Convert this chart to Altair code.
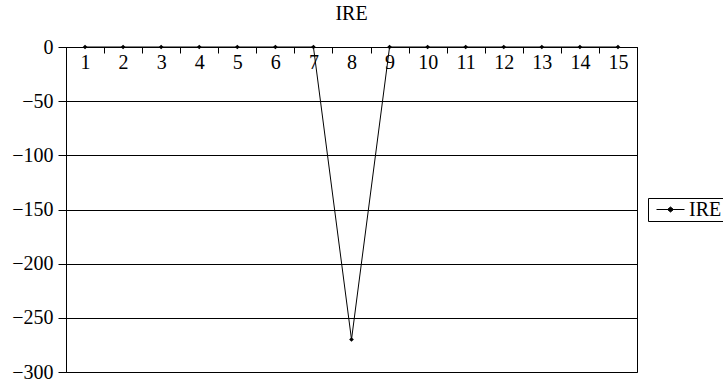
import altair as alt
import pandas as pd

# Series values for the single "IRE" line, one per category 1..15
categories = [str(i) for i in range(1, 16)]
ire_values = [0, 0, 0, 0, 0, 0, 0, -270, 0, 0, 0, 0, 0, 0, 0]
series_name = "IRE"
y_ticks = [0, -50, -100, -150, -200, -250, -300]

df = pd.DataFrame({"cat": categories, "value": ire_values, "series": series_name})

FONT = "Liberation Serif"
PLOT_W, PLOT_H = 571, 325

x_enc = alt.X(
    "cat:O",
    sort=categories,
    scale=alt.Scale(type="band", paddingInner=0, paddingOuter=0),
    axis=alt.Axis(
        title=None,
        orient="bottom",
        offset=-PLOT_H,
        ticks=True,
        tickBand="extent",
        labelFlush=False,
        labelAngle=0,
        labelPadding=-1,
        tickSize=6,
        labelOverlap=False,
    ),
)

y_enc = alt.Y(
    "value:Q",
    scale=alt.Scale(domain=[-300, 0], nice=False),
    axis=alt.Axis(
        title=None,
        values=y_ticks,
        labelPadding=5,
        tickSize=8,
        grid=True,
    ),
)

color_enc = alt.Color(
    "series:N",
    scale=alt.Scale(range=["black"]),
    legend=alt.Legend(
        title=None,
        orient="none",
        legendX=582,
        legendY=151,
        strokeColor="black",
        padding=1,
        symbolOffset=11,
        labelOffset=8,
        symbolType="M-1.4,0L1.4,0M0,-0.25L0.3,0L0,0.25L-0.3,0Z",
        symbolSize=400,
        symbolStrokeWidth=1,
        symbolFillColor="black",
        symbolStrokeColor="black",
    ),
)

line = alt.Chart(df).mark_line(color="#222222", strokeWidth=1).encode(
    x=x_enc, y=y_enc, color=color_enc
)
points = alt.Chart(df).mark_point(
    shape="diamond", filled=True, size=22, color="black", opacity=1
).encode(x=x_enc, y=y_enc)

chart = (
    alt.layer(line, points)
    .properties(
        width=PLOT_W,
        height=PLOT_H,
        title=alt.TitleParams(
            "IRE",
            fontSize=20,
            fontWeight="normal",
            color="black",
            anchor="middle",
            frame="group",
            offset=13,
        ),
        autosize=alt.AutoSizeParams(type="none"),
        padding={"left": 66, "top": 47, "right": 86, "bottom": 9},
        background="white",
    )
    .configure(font=FONT)
    .configure_axis(
        labelFont=FONT,
        labelFontSize=20,
        labelColor="black",
        tickColor="black",
        domainColor="black",
        gridColor="black",
        gridOpacity=1,
        gridWidth=1,
    )
    .configure_legend(labelFont=FONT, labelFontSize=20, labelColor="black")
    .configure_title(font=FONT)
    .configure_view(stroke="black", strokeWidth=1)
)

chart.save("out.html", embed_options={"renderer": "svg", "actions": False})
